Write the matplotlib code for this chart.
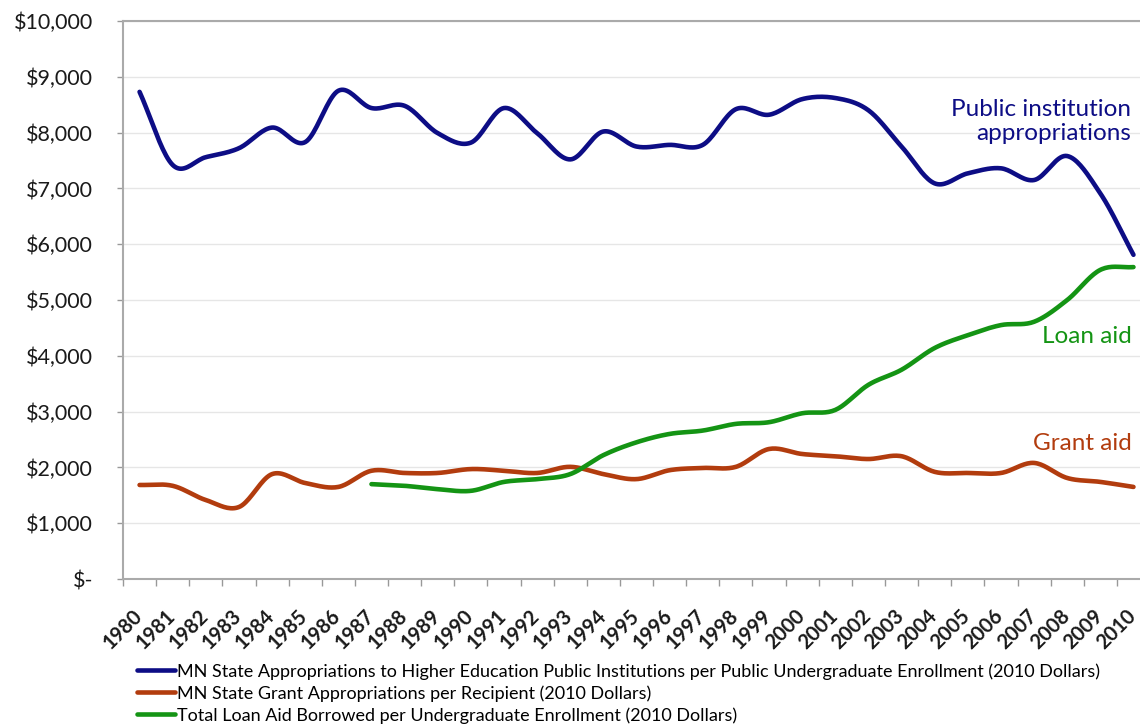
import numpy as np
import matplotlib
matplotlib.use("Agg")
import matplotlib.pyplot as plt
from matplotlib.ticker import FuncFormatter, FixedLocator, NullFormatter

years = list(range(1980, 2011))
public_approp = [8730, 7420, 7560, 7720, 8090, 7830, 8750, 8440, 8480, 7990,
                 7820, 8440, 7990, 7520, 8020, 7750, 7780, 7780, 8420, 8320,
                 8600, 8620, 8400, 7750, 7090, 7270, 7360, 7150, 7580, 6910, 5810]
grant_aid = [1685, 1670, 1415, 1290, 1880, 1720, 1650, 1940, 1900, 1900,
             1970, 1940, 1900, 2010, 1880, 1790, 1950, 1990, 2010, 2330,
             2240, 2200, 2150, 2200, 1920, 1900, 1900, 2080, 1810, 1740, 1650]
loan_years = list(range(1987, 2011))
loan_aid = [1700, 1670, 1610, 1580, 1740, 1790, 1880, 2220, 2450, 2600,
            2660, 2780, 2810, 2970, 3030, 3480, 3750, 4140, 4370, 4550,
            4610, 5000, 5540, 5590]
y_ticks = [0, 1000, 2000, 3000, 4000, 5000, 6000, 7000, 8000, 9000, 10000]
legend_labels = [
    "MN State Appropriations to Higher Education Public Institutions per Public Undergraduate Enrollment (2010 Dollars)",
    "MN State Grant Appropriations per Recipient (2010 Dollars)",
    "Total Loan Aid Borrowed per Undergraduate Enrollment (2010 Dollars)",
]

BLUE = "#0d0d85"
RED = "#b23c0e"
GREEN = "#149414"
FONT = "Lato"


def smooth(x, y, n=20):
    x = np.asarray(x, float)
    y = np.asarray(y, float)
    px = np.concatenate([[2 * x[0] - x[1]], x, [2 * x[-1] - x[-2]]])
    py = np.concatenate([[2 * y[0] - y[1]], y, [2 * y[-1] - y[-2]]])
    xs, ys = [], []
    t = np.linspace(0, 1, n, endpoint=False)
    for i in range(1, len(px) - 2):
        for arr, out in ((px, xs), (py, ys)):
            p0, p1, p2, p3 = arr[i - 1], arr[i], arr[i + 1], arr[i + 2]
            out.extend(0.5 * ((2 * p1) + (-p0 + p2) * t
                              + (2 * p0 - 5 * p1 + 4 * p2 - p3) * t ** 2
                              + (-p0 + 3 * p1 - 3 * p2 + p3) * t ** 3))
    xs.append(x[-1])
    ys.append(y[-1])
    return np.array(xs), np.array(ys)


fig = plt.figure(figsize=(11.4, 7.27), dpi=100)
W, H = 1140, 727
ax = fig.add_axes([123 / W, 1 - 579 / H, (W - 123) / W, (579 - 21) / H])

xi = np.arange(len(years))
xl = np.array([years.index(y) for y in loan_years])

for xx, yy, c, lab in ((xi, public_approp, BLUE, legend_labels[0]),
                       (xi, grant_aid, RED, legend_labels[1]),
                       (xl, loan_aid, GREEN, legend_labels[2])):
    sx, sy = smooth(xx, yy)
    ax.plot(sx, sy, color=c, lw=3.3, solid_capstyle="round", label=lab)

ax.set_xlim(-0.5, -0.5 + (W - 123) / 33.13)
ax.set_ylim(0, 10000)
ax.set_yticks(y_ticks)
ax.yaxis.set_major_formatter(FuncFormatter(lambda v, p: "$-" if v == 0 else f"${v:,.0f}"))
ax.set_xticks(xi)
ax.xaxis.set_major_formatter(NullFormatter())
for i, yr in zip(xi, years):
    ax.annotate(str(yr), xy=(i, 0), xycoords=ax.get_xaxis_transform(),
                xytext=(-5.5, -19.5), textcoords="offset points",
                rotation=45, ha="right", va="top", rotation_mode="anchor",
                fontsize=14.5, fontweight="bold", family=FONT, color="#1a1a1a",
                annotation_clip=False)
ax.xaxis.set_minor_locator(FixedLocator(np.arange(-0.5, len(years) + 0.5, 1)))
ax.tick_params(axis="x", which="major", length=0)
ax.tick_params(axis="x", which="minor", length=5, color="#999999", width=1)
ax.tick_params(axis="y", length=4.5, color="#999999", width=1, pad=17)
for lbl in ax.get_yticklabels():
    lbl.set_fontsize(15.5)
    lbl.set_family(FONT)
    lbl.set_color("#1a1a1a")

ax.grid(axis="y", color="#e6e6e6", lw=1)
ax.set_axisbelow(True)
for s in ("left", "bottom", "top"):
    ax.spines[s].set_color("#aaaaaa")
    ax.spines[s].set_linewidth(1.5)
ax.spines["right"].set_visible(False)

ax.text(29.94, 8200, "Public institution\nappropriations", color=BLUE, fontsize=17.5,
        family=FONT, ha="right", va="center", linespacing=1.2)
ax.text(29.94, 4337, "Loan aid", color=GREEN, fontsize=17.5, family=FONT,
        ha="right", va="center")
ax.text(29.94, 2437, "Grant aid", color=RED, fontsize=17.5, family=FONT,
        ha="right", va="center")

fig.legend(loc="upper left", bbox_to_anchor=(137 / W, 1 - 663 / H), frameon=False,
           handlelength=2.1, handletextpad=0.1, labelspacing=0.3,
           prop={"family": FONT, "size": 13}, borderaxespad=0, borderpad=0)

fig.savefig("out.png", dpi=100, facecolor="white")
